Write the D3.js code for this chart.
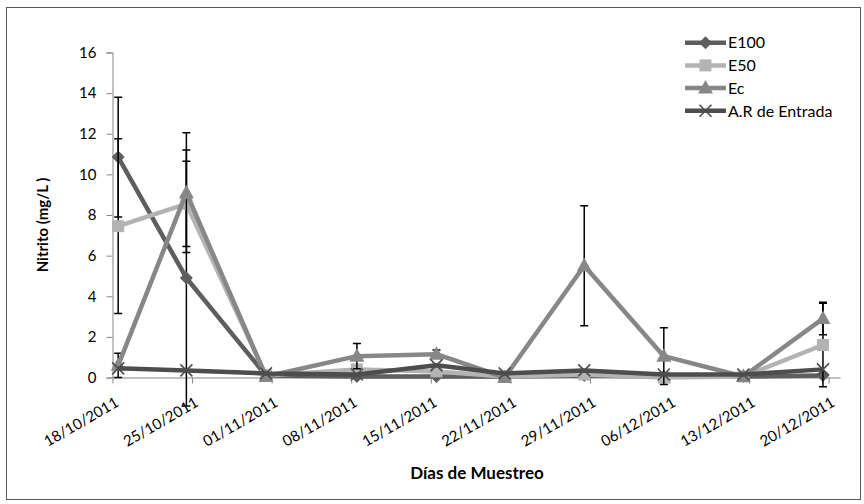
<!DOCTYPE html>
<html>
<head>
<meta charset="utf-8">
<script src="https://cdn.jsdelivr.net/npm/d3@7/dist/d3.min.js"></script>
<style>
  body { margin: 0; background: #fff; }
  svg { display: block; font-family: Lato, "Open Sans", sans-serif; }
</style>
</head>
<body>
<svg id="chart" width="864" height="504"></svg>
<script>
// sampling dates (day precision date axis)
const sampleDates = ["18/10/2011", "24/10/2011", "31/10/2011", "08/11/2011", "15/11/2011",
  "21/11/2011", "28/11/2011", "05/12/2011", "12/12/2011", "19/12/2011"];
const tickLabels = ["18/10/2011", "25/10/2011", "01/11/2011", "08/11/2011", "15/11/2011",
  "22/11/2011", "29/11/2011", "06/12/2011", "13/12/2011", "20/12/2011"];
const yTicks = [0, 2, 4, 6, 8, 10, 12, 14, 16];

const e100 = [10.85, 4.9, 0.1, 0.05, 0.05, 0.05, 0.1, 0.05, 0.05, 0.1];
const e100Err = [2.95, 6.3, 0, 0, 0, 0, 0, 0, 0, 0];
const e50 = [7.45, 8.55, 0.1, 0.4, 0.3, 0.05, 0.15, 0.0, 0.05, 1.6];
const e50Err = [4.3, 2.1, 0, 0, 0, 0, 0, 0, 0, 2.05];
const ec = [0.6, 9.1, 0.05, 1.05, 1.15, 0.0, 5.5, 1.05, 0.05, 2.9];
const ecErr = [0.6, 2.95, 0, 0.62, 0.2, 0, 2.95, 1.4, 0, 0.8];
const arEntrada = [0.45, 0.35, 0.2, 0.15, 0.6, 0.2, 0.35, 0.15, 0.15, 0.4];
const arErr = [0, 0, 0, 0, 0, 0, 0, 0, 0, 0];

const seriesNames = ["E100", "E50", "Ec", "A.R de Entrada"];

const parse = d3.utcParse("%d/%m/%Y");
const dates = sampleDates.map(parse);
const tickDates = tickLabels.map(parse);

const series = [
  { name: seriesNames[0], values: e100, err: e100Err, color: "#5e5e5e", marker: "diamond" },
  { name: seriesNames[1], values: e50, err: e50Err, color: "#b3b3b3", marker: "square" },
  { name: seriesNames[2], values: ec, err: ecErr, color: "#878787", marker: "triangle" },
  { name: seriesNames[3], values: arEntrada, err: arErr, color: "#4d4d4d", marker: "x" }
];

const svg = d3.select("#chart");

// outer chart border
svg.append("rect")
  .attr("x", 6.5).attr("y", 7.5)
  .attr("width", 854).attr("height", 492)
  .attr("fill", "none")
  .attr("stroke", "#595959")
  .attr("stroke-width", 1);

const plotLeft = 112.5, plotRight = 840, plotTop = 52.5, plotBottom = 377.5;

const start = tickDates[0];
const end = d3.utcDay.offset(tickDates[tickDates.length - 1], 1);
const x = d3.scaleUtc().domain([start, end]).range([plotLeft, plotRight]);
const halfDay = (x(d3.utcDay.offset(start, 1)) - x(start)) / 2;
const px = d => x(d) + halfDay;

const y = d3.scaleLinear().domain([0, 16]).range([plotBottom, plotTop]);

// y axis
const yAxis = svg.append("g")
  .attr("transform", `translate(${plotLeft},0)`)
  .call(d3.axisLeft(y).tickValues(yTicks).tickSize(6).tickPadding(10).tickFormat(d3.format("d")));
yAxis.select(".domain").attr("stroke", "#868686");
yAxis.selectAll(".tick line").attr("stroke", "#868686");
yAxis.selectAll(".tick text")
  .attr("fill", "#000")
  .attr("font-size", "15px")
  .attr("font-family", "Lato, sans-serif");

// x axis
const xAxis = svg.append("g")
  .attr("transform", `translate(0,${plotBottom})`)
  .call(d3.axisBottom(x).tickValues(tickDates).tickSize(6).tickSizeOuter(0).tickFormat((d, i) => tickLabels[i]));
xAxis.select(".domain").attr("stroke", "#868686");
xAxis.selectAll(".tick line").attr("stroke", "#868686");
xAxis.selectAll(".tick text")
  .attr("fill", "#000")
  .attr("font-size", "15px")
  .attr("font-family", "Lato, sans-serif")
  .attr("text-anchor", "end")
  .attr("y", 0).attr("dy", 0)
  .attr("transform", `translate(${halfDay + 1},28) rotate(-30)`);

// axis titles
svg.append("text")
  .attr("transform", "translate(48,225) rotate(-90)")
  .attr("text-anchor", "middle")
  .attr("font-size", "15px")
  .attr("font-weight", "bold")
  .text("Nitrito (mg/L )");

svg.append("text")
  .attr("x", 477).attr("y", 479)
  .attr("text-anchor", "middle")
  .attr("font-size", "17px")
  .attr("font-weight", "bold")
  .text("Días de Muestreo");

// markers
function drawMarker(g, type, color) {
  if (type === "diamond") {
    g.append("rect").attr("x", -4.6).attr("y", -4.6).attr("width", 9.2).attr("height", 9.2)
      .attr("transform", "rotate(45)").attr("fill", color);
  } else if (type === "square") {
    g.append("rect").attr("x", -6).attr("y", -6).attr("width", 12).attr("height", 12)
      .attr("fill", color);
  } else if (type === "triangle") {
    g.append("path").attr("d", "M0,-8L7.5,5.5L-7.5,5.5Z").attr("fill", color);
  } else {
    g.append("path").attr("d", "M-6,-6L6,6M-6,6L6,-6")
      .attr("stroke", color).attr("stroke-width", 1.6).attr("fill", "none");
  }
}

const line = d3.line().x((d, i) => px(dates[i])).y(d => y(d));
const capW = 4;

series.forEach(s => {
  const g = svg.append("g");

  // error bars
  s.values.forEach((v, i) => {
    if (!s.err[i]) return;
    const cx = px(dates[i]);
    const y1 = y(v + s.err[i]), y2 = y(v - s.err[i]);
    g.append("path")
      .attr("d", `M${cx},${y1}V${y2}M${cx - capW},${y1}H${cx + capW}M${cx - capW},${y2}H${cx + capW}`)
      .attr("stroke", "#000").attr("stroke-width", 1.5).attr("fill", "none");
  });

  g.append("path")
    .datum(s.values)
    .attr("d", line)
    .attr("fill", "none")
    .attr("stroke", s.color)
    .attr("stroke-width", 4.5)
    .attr("stroke-linejoin", "round");

  s.values.forEach((v, i) => {
    drawMarker(g.append("g").attr("transform", `translate(${px(dates[i])},${y(v)})`), s.marker, s.color);
  });
});

// legend
const legend = svg.append("g");
series.forEach((s, i) => {
  const ly = 42.7 + i * 22.7;
  legend.append("line")
    .attr("x1", 685).attr("x2", 726).attr("y1", ly).attr("y2", ly)
    .attr("stroke", s.color).attr("stroke-width", 4.5);
  drawMarker(legend.append("g").attr("transform", `translate(705.5,${ly})`), s.marker, s.color);
  legend.append("text")
    .attr("x", 728).attr("y", ly)
    .attr("dy", "0.36em")
    .attr("font-size", "16px")
    .text(s.name);
});
</script>
</body>
</html>
